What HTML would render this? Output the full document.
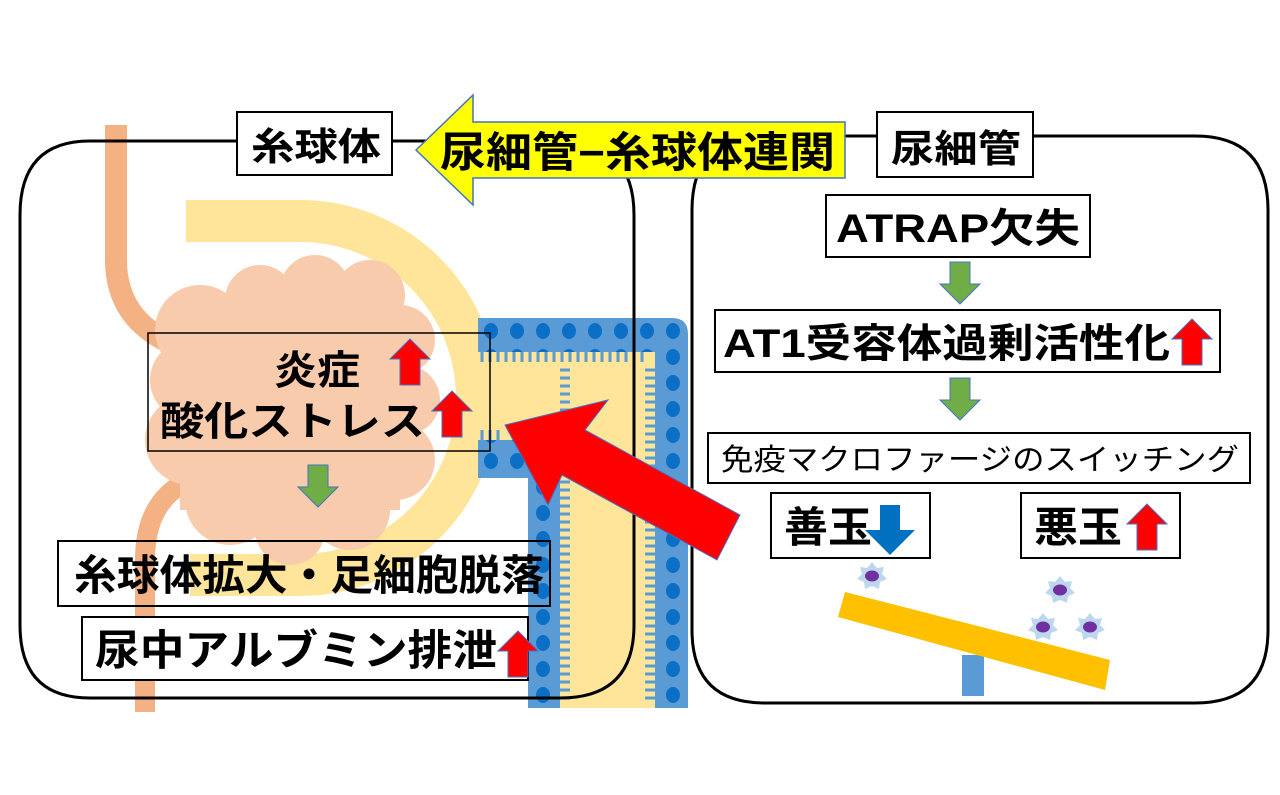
<!DOCTYPE html>
<html><head><meta charset="utf-8"><style>
html,body{margin:0;padding:0;background:#fff}
svg{display:block}
text{font-family:"Liberation Sans","Noto Sans CJK JP",sans-serif;fill:#000}
</style></head><body>
<svg width="1280" height="795" viewBox="0 0 1280 795" xmlns="http://www.w3.org/2000/svg">
<defs>
<pattern id="dots" x="478" y="318" width="26" height="26" patternUnits="userSpaceOnUse">
<rect width="26" height="26" fill="#5b9bd5"/><ellipse cx="13" cy="13" rx="7" ry="8" fill="#0b6fc6"/>
</pattern>
<g id="up"><polygon points="0,-24 20,-4 10,-4 10,22 -10,22 -10,-4 -20,-4" fill="#f00" stroke="#4472c4" stroke-width="1"/></g>
<g id="green"><polygon points="-10,0 10,0 10,22 20,22 0,42 -20,22 -10,22" fill="#70ad47" stroke="#4472c4" stroke-width="1"/></g>
<g id="cell"><polygon points="0,-14 5,-8 12,-9 10,-2 15,3 8,6 7,13 0,10 -7,13 -8,6 -15,3 -10,-2 -12,-9 -5,-8" fill="#bdd7ee"/><ellipse cx="0" cy="0" rx="7" ry="5.5" fill="#7030a0"/></g>
</defs>

<path d="M116,125 L116,260 Q116,320 175,345" fill="none" stroke="#f4b183" stroke-width="22"/>
<path d="M190,480 Q145,500 145,560 L145,712" fill="none" stroke="#f4b183" stroke-width="20"/>

<path d="M186,221 L300,221 A177,177 0 0 1 300,575 L190,575" fill="none" stroke="#fee599" stroke-width="42"/>

<g fill="#f8cbad">
<circle cx="200" cy="330" r="45"/><circle cx="260" cy="300" r="35"/><circle cx="315" cy="290" r="35"/><circle cx="370" cy="295" r="35"/>
<circle cx="400" cy="340" r="35"/><circle cx="405" cy="400" r="35"/><circle cx="395" cy="460" r="40"/><circle cx="350" cy="510" r="40"/>
<circle cx="290" cy="530" r="35"/><circle cx="230" cy="500" r="45"/><circle cx="190" cy="440" r="45"/><circle cx="190" cy="380" r="40"/>
<rect x="180" y="310" width="220" height="200"/>
</g>

<path d="M478,318 L672,318 Q688,318 688,334 L688,708 L528,708 L528,478 L478,478 Z" fill="url(#dots)"/>
<path d="M478,352 L655,352 L655,708 L560,708 L560,440 L478,440 Z" fill="#fee599"/>
<g stroke="#5b9bd5" stroke-width="3">
<path d="M482,352 v10 M490,352 v10 M498,352 v10 M506,352 v10 M514,352 v10 M522,352 v10 M530,352 v10 M538,352 v10 M546,352 v10 M554,352 v10 M562,352 v10 M570,352 v10 M578,352 v10 M586,352 v10 M594,352 v10 M602,352 v10 M610,352 v10 M618,352 v10 M626,352 v10 M634,352 v10 M642,352 v10"/>
<path d="M482,440 v-10 M490,440 v-10 M498,440 v-10"/>
</g>
<g stroke="#5b9bd5" stroke-width="3">
<path id="rt" d="M655,370 h-10 M655,378 h-10 M655,386 h-10 M655,394 h-10 M655,402 h-10 M655,410 h-10 M655,418 h-10 M655,426 h-10 M655,434 h-10 M655,442 h-10 M655,450 h-10 M655,458 h-10 M655,466 h-10 M655,474 h-10 M655,482 h-10 M655,490 h-10 M655,498 h-10 M655,506 h-10 M655,514 h-10 M655,522 h-10 M655,530 h-10 M655,538 h-10 M655,546 h-10 M655,554 h-10 M655,562 h-10 M655,570 h-10 M655,578 h-10 M655,586 h-10 M655,594 h-10 M655,602 h-10 M655,610 h-10 M655,618 h-10 M655,626 h-10 M655,634 h-10 M655,642 h-10 M655,650 h-10 M655,658 h-10 M655,666 h-10 M655,674 h-10 M655,682 h-10 M655,690 h-10 M655,698 h-10"/>
</g>
<use href="#rt" transform="translate(1215,0) scale(-1,1)" stroke="#5b9bd5" stroke-width="3"/>

<path d="M90,141 L560,141 Q634,141 634,215 L634,625 Q634,698 560,698 L90,698 Q20,698 20,625 L20,215 Q20,141 90,141 Z" fill="none" stroke="#000" stroke-width="3"/>
<path d="M765,136 L1195,136 Q1268,136 1268,210 L1268,630 Q1268,703 1195,703 L765,703 Q692,703 692,630 L692,210 Q692,136 765,136 Z" fill="none" stroke="#000" stroke-width="3"/>

<rect x="237" y="112" width="155" height="63" fill="#fff" stroke="#000" stroke-width="2"/>
<text x="251" y="160" font-size="38" font-weight="bold" textLength="130" lengthAdjust="spacingAndGlyphs">糸球体</text>
<rect x="877" y="112" width="156" height="65" fill="#fff" stroke="#000" stroke-width="2"/>
<text x="891" y="162" font-size="38" font-weight="bold" textLength="130" lengthAdjust="spacingAndGlyphs">尿細管</text>
<polygon points="416,150 473,95 473,122 845,122 845,178 473,178 473,205" fill="#ffff00" stroke="#4472c4" stroke-width="1.5"/>
<text x="440" y="167" font-size="42" font-weight="bold" textLength="395" lengthAdjust="spacingAndGlyphs">尿細管−糸球体連関</text>

<rect x="148" y="333" width="342" height="118" fill="none" stroke="#000" stroke-width="1.5"/>
<text x="274" y="384" font-size="40" font-weight="bold" textLength="86" lengthAdjust="spacingAndGlyphs">炎症</text>
<text x="160" y="435" font-size="40" font-weight="bold" textLength="265" lengthAdjust="spacingAndGlyphs">酸化ストレス</text>
<use href="#up" x="410" y="363"/>
<use href="#up" x="452" y="415"/>
<use href="#green" x="318" y="465"/>
<rect x="58" y="541" width="492" height="65" fill="none" stroke="#000" stroke-width="2"/>
<text x="74" y="590" font-size="42" font-weight="bold" textLength="470" lengthAdjust="spacingAndGlyphs">糸球体拡大・足細胞脱落</text>
<rect x="82" y="617" width="446" height="63" fill="#fff" stroke="#000" stroke-width="2"/>
<text x="95" y="665" font-size="42" font-weight="bold" textLength="402" lengthAdjust="spacingAndGlyphs">尿中アルブミン排泄</text>
<use href="#up" x="518" y="655"/>

<polygon points="505,425 608,400 585,430 740,515 717,560 562,475 548,505" fill="#f00" stroke="#4472c4" stroke-width="1"/>

<rect x="826" y="195" width="264" height="62" fill="#fff" stroke="#000" stroke-width="2"/>
<text x="836" y="242" font-size="40" font-weight="bold" textLength="244" lengthAdjust="spacingAndGlyphs">ATRAP欠失</text>
<use href="#green" x="960" y="262"/>
<rect x="715" y="310" width="505" height="62" fill="#fff" stroke="#000" stroke-width="2"/>
<text x="723" y="357" font-size="40" font-weight="bold" textLength="447" lengthAdjust="spacingAndGlyphs">AT1受容体過剰活性化</text>
<use href="#up" x="1192" y="343"/>
<use href="#green" x="960" y="378"/>
<rect x="708" y="433" width="542" height="50" fill="#fff" stroke="#000" stroke-width="2"/>
<text x="721" y="470" font-size="30" textLength="518" lengthAdjust="spacingAndGlyphs">免疫マクロファージのスイッチング</text>
<rect x="771" y="493" width="159" height="65" fill="#fff" stroke="#000" stroke-width="2"/>
<text x="784" y="542" font-size="42" font-weight="bold" textLength="88" lengthAdjust="spacingAndGlyphs">善玉</text>
<polygon points="880,505 900,505 900,530 915,530 890,555 865,530 880,530" fill="#0070c0"/>
<rect x="1021" y="493" width="159" height="65" fill="#fff" stroke="#000" stroke-width="2"/>
<text x="1034" y="542" font-size="42" font-weight="bold" textLength="88" lengthAdjust="spacingAndGlyphs">悪玉</text>
<use href="#up" x="1147" y="528"/>
<rect x="962" y="655" width="22" height="41" fill="#5b9bd5"/>
<polygon points="845,592 1110,660 1105,690 838,617" fill="#ffc000"/>
<use href="#cell" x="872" y="576"/>
<use href="#cell" x="1060" y="590"/>
<use href="#cell" x="1043" y="627"/>
<use href="#cell" x="1090" y="627"/>
</svg>
</body></html>
